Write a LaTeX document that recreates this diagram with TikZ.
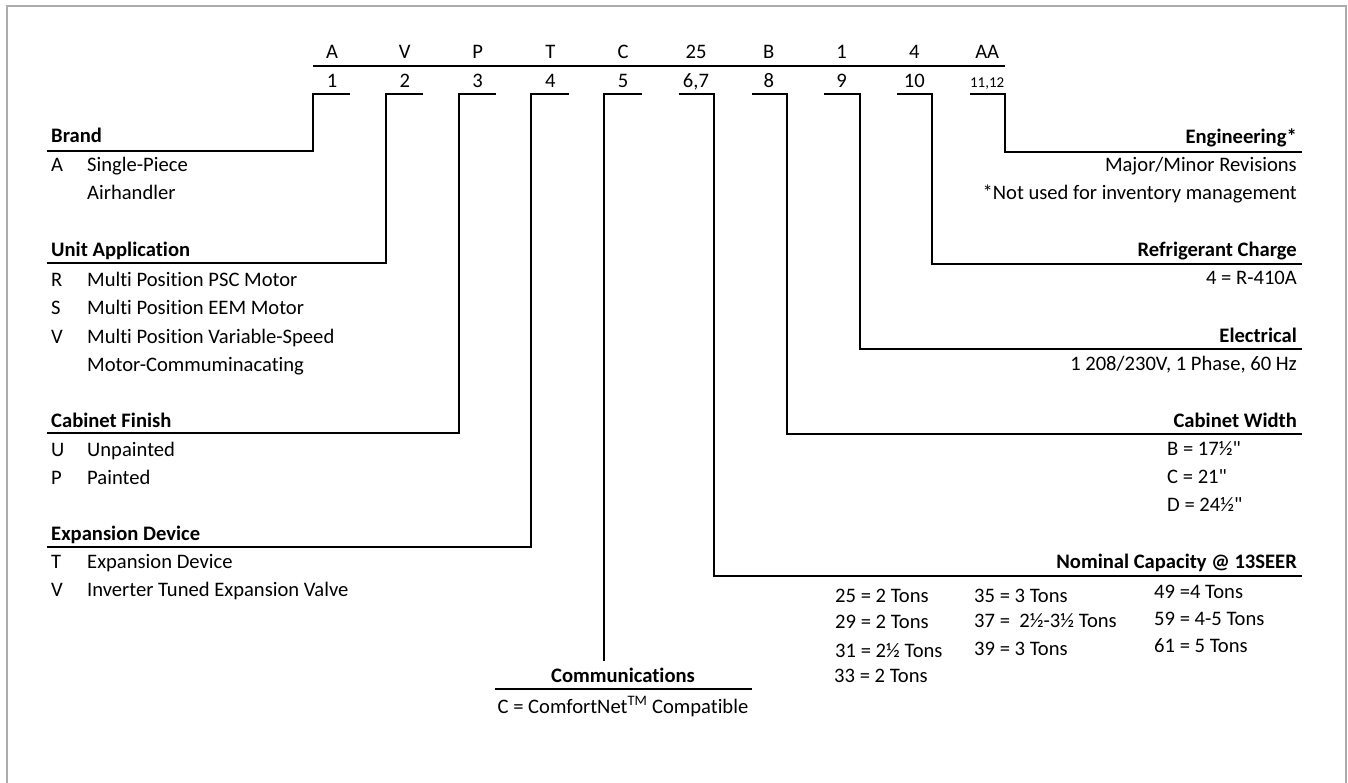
\documentclass[tikz,border=0pt]{standalone}
\usepackage{fontspec}
\setmainfont{Carlito}[Ligatures={TeXOff,NoCommon}]
\newcommand{\sq}{"}
\begin{document}
\begin{tikzpicture}[x=1pt,y=-1pt,
  lbl/.style={inner sep=0pt, font=\fontsize{20.6}{24}\selectfont},
  hd/.style={inner sep=0pt, font=\fontsize{20.6}{24}\selectfont\bfseries},
  sml/.style={inner sep=0pt, font=\fontsize{15}{18}\selectfont},
  ln/.style={line width=2.6pt, line cap=butt, line join=miter},
  frame/.style={draw=gray!65, line width=1.3pt}]
\clip (0,0) rectangle (1348,783);
\useasboundingbox (0,0) rectangle (1348,783);
\draw[frame] (7,6) rectangle (1346,800);

% header letters
\foreach \t [count=\i] in {A,V,P,T,C,25,B,1,4,AA}
  \node[lbl, anchor=base] (L\i) at ({332+72.8*(\i-1)},59) {\t};
% header numbers
\foreach \t [count=\i] in {1,2,3,4,5,{6,7},8,9,10}
  \node[lbl, anchor=base] (N\i) at ({332+72.8*(\i-1)},88) {\t};
\node[sml, anchor=base] (N10) at (987.2,88) {11,12};

\coordinate (topL) at (313,66);
\coordinate (topR) at (1005,66);
\draw[ln] (topL) -- (topR);

% ---------- left side ----------
\node[hd, anchor=base west] (brand) at (51,143) {Brand};
\node[lbl, anchor=base west] (brandA) at (51,172) {A};
\node[lbl, anchor=base west] (brandAt) at (87,172) {Single-Piece};
\node[lbl, anchor=base west] (brandAt2) at (87,200) {Airhandler};
\coordinate (brandL) at (47,151);

\node[hd, anchor=base west] (unit) at (51,257) {Unit Application};
\node[lbl, anchor=base west] (unitR) at (51,287) {R};
\node[lbl, anchor=base west] (unitRt) at (87,287) {Multi Position PSC Motor};
\node[lbl, anchor=base west] (unitS) at (51,315) {S};
\node[lbl, anchor=base west] (unitSt) at (87,315) {Multi Position EEM Motor};
\node[lbl, anchor=base west] (unitV) at (51,343) {V};
\node[lbl, anchor=base west] (unitVt) at (87,343) {Multi Position Variable-Speed};
\node[lbl, anchor=base west] (unitVt2) at (87,371) {Motor-Commuminacating};
\coordinate (unitL) at (47,263);

\node[hd, anchor=base west] (cab) at (51,427) {Cabinet Finish};
\node[lbl, anchor=base west] (cabU) at (51,456) {U};
\node[lbl, anchor=base west] (cabUt) at (87,456) {Unpainted};
\node[lbl, anchor=base west] (cabP) at (51,484) {P};
\node[lbl, anchor=base west] (cabPt) at (87,484) {Painted};
\coordinate (cabL) at (47,433);

\node[hd, anchor=base west] (exp) at (51,540) {Expansion Device};
\node[lbl, anchor=base west] (expT) at (51,568) {T};
\node[lbl, anchor=base west] (expTt) at (87,568) {Expansion Device};
\node[lbl, anchor=base west] (expV) at (51,596) {V};
\node[lbl, anchor=base west] (expVt) at (87,596) {Inverter Tuned Expansion Valve};
\coordinate (expL) at (47,547);

% left brackets
\draw[ln] (350,94) -- (313,94) -- (313,151) -- (brandL);
\draw[ln] (423,94) -- (386,94) -- (386,263) -- (unitL);
\draw[ln] (496,94) -- (459,94) -- (459,433) -- (cabL);
\draw[ln] (569,94) -- (531,94) -- (531,547) -- (expL);

% communications
\coordinate (commEnd) at (604,661);
\draw[ln] (642,94) -- (604,94) -- (commEnd);
\node[hd, anchor=base] (comm) at (623,682) {Communications};
\coordinate (commL) at (495,689);
\coordinate (commR) at (752,689);
\draw[ln] (commL) -- (commR);
\node[lbl, anchor=base] (commC) at (623,713) {C = ComfortNet\textsuperscript{TM} Compatible};

% ---------- right side ----------
\node[hd, anchor=base east] (eng) at (1297,144) {Engineering*};
\node[lbl, anchor=base east] (eng1) at (1297,172) {Major/Minor Revisions};
\node[lbl, anchor=base east] (eng2) at (1297,200) {*Not used for inventory management};
\coordinate (engR) at (1302,152);

\node[hd, anchor=base east] (ref) at (1297,257) {Refrigerant Charge};
\node[lbl, anchor=base east] (ref1) at (1297,285) {4 = R-410A};
\coordinate (refR) at (1302,264);

\node[hd, anchor=base east] (ele) at (1297,342) {Electrical};
\node[lbl, anchor=base east] (ele1) at (1297,370) {1 208/230V, 1 Phase, 60 Hz};
\coordinate (eleR) at (1302,349);

\node[hd, anchor=base east] (cw) at (1297,427) {Cabinet Width};
\node[lbl, anchor=base west] (cwB) at (1167,455) {B = 17½\sq};
\node[lbl, anchor=base west] (cwC) at (1167,483) {C = 21\sq};
\node[lbl, anchor=base west] (cwD) at (1167,511) {D = 24½\sq};
\coordinate (cwR) at (1302,434);

\node[hd, anchor=base east] (cap) at (1297,568) {Nominal Capacity @ 13SEER};
\coordinate (capR) at (1302,576);
\node[lbl, anchor=base west] (c25) at (835,602) {25 = 2 Tons};
\node[lbl, anchor=base west] (c29) at (835,628) {29 = 2 Tons};
\node[lbl, anchor=base west] (c31) at (835,657) {31 = 2½ Tons};
\node[lbl, anchor=base west] (c33) at (834,682) {33 = 2 Tons};
\node[lbl, anchor=base west] (c35) at (974,602) {35 = 3 Tons};
\node[lbl, anchor=base west] (c37) at (974,627) {37 =\ \ 2½-3½ Tons};
\node[lbl, anchor=base west] (c39) at (974,655) {39 = 3 Tons};
\node[lbl, anchor=base west] (c49) at (1154,598) {49 =4 Tons};
\node[lbl, anchor=base west] (c59) at (1154,625) {59 = 4-5 Tons};
\node[lbl, anchor=base west] (c61) at (1154,652) {61 = 5 Tons};

% right brackets
\draw[ln] (679,94) -- (714,94) -- (714,576) -- (capR);
\draw[ln] (752,94) -- (787,94) -- (787,434) -- (cwR);
\draw[ln] (824,94) -- (860,94) -- (860,349) -- (eleR);
\draw[ln] (897,94) -- (932,94) -- (932,264) -- (refR);
\draw[ln] (970,94) -- (1005,94) -- (1005,152) -- (engR);
\end{tikzpicture}
\end{document}
